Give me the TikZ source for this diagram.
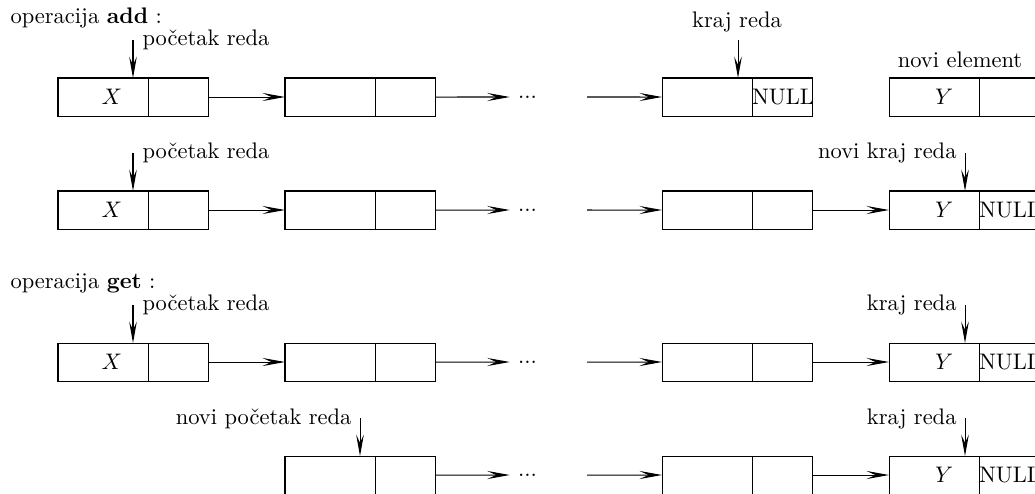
\documentclass[tikz,border=0pt]{standalone}
\usetikzlibrary{arrows.meta}
\begin{document}
\begin{tikzpicture}[x=0.4444pt, y=-0.4444pt, line width=0.45pt,
  dat/.style={draw, outer sep=0pt, inner ysep=0pt, inner xsep=11.5pt,
    text width=17pt, align=right, minimum height=16.89pt, anchor=north west},
  nxt/.style={draw, outer sep=0pt, inner sep=0pt, text width=26.67pt,
    align=left, minimum height=16.89pt, anchor=west},
  conn/.style={-{Stealth[length=10pt, width=3.6pt, inset=4pt]}},
  ptr/.style={-{Stealth[length=9.5pt, width=3.4pt, inset=3.6pt]}},
  lbl/.style={inner sep=0pt},
  dotsnode/.style={inner xsep=3.5pt, inner ysep=0pt}]
\useasboundingbox (0,0) rectangle (1035,493);
\clip (0,0) rectangle (1035,493);

% ---------- operacija add : stanje prije ----------
\node[lbl, anchor=base west] (titleadd) at (10,23) {operacija \textbf{add} :};
\node[dat] (a1d) at (58,78) {$X$};
\node[nxt] (a1n) at (a1d.east) {};
\node[dat] (a2d) at (285,78) {};
\node[nxt] (a2n) at (a2d.east) {};
\node[dotsnode] (a2x) at (527.5,97) {...};
\coordinate (a3s) at (587,97);
\node[dat] (a3d) at (662,78) {};
\node[nxt] (a3n) at (a3d.east) {NULL};
\node[dat] (a4d) at (889,78) {$Y$};
\node[nxt] (a4n) at (a4d.east) {};
\draw[conn] (a1n.east) -- (a2d.west);
\draw[conn] (a2n.east) -- (a2x.west);
\draw[conn] (a3s) -- (a3d.west);
\coordinate (a1p) at (133,40);
\draw[ptr] (a1p) -- (a1p |- a1d.north);
\node[lbl, anchor=base west] (a1l) at (142,45) {početak reda};
\coordinate (a3p) at (738,40);
\draw[ptr] (a3p) -- (a3p |- a3d.north);
\node[lbl, anchor=base] (a3l) at (737,27) {kraj reda};
\node[lbl, anchor=base] (a4l) at (960,67) {novi element};

% ---------- operacija add : stanje poslije ----------
\node[dat] (b1d) at (58,191) {$X$};
\node[nxt] (b1n) at (b1d.east) {};
\node[dat] (b2d) at (285,191) {};
\node[nxt] (b2n) at (b2d.east) {};
\node[dotsnode] (b2x) at (527.5,210) {...};
\coordinate (b3s) at (587,210);
\node[dat] (b3d) at (662,191) {};
\node[nxt] (b3n) at (b3d.east) {};
\node[dat] (b4d) at (889,191) {$Y$};
\node[nxt] (b4n) at (b4d.east) {NULL};
\draw[conn] (b1n.east) -- (b2d.west);
\draw[conn] (b2n.east) -- (b2x.west);
\draw[conn] (b3s) -- (b3d.west);
\draw[conn] (b3n.east) -- (b4d.west);
\coordinate (b1p) at (133,153);
\draw[ptr] (b1p) -- (b1p |- b1d.north);
\node[lbl, anchor=base west] (b1l) at (142,158) {početak reda};
\coordinate (b4p) at (965,153);
\draw[ptr] (b4p) -- (b4p |- b4d.north);
\node[lbl, anchor=base east] (b4l) at (957,158) {novi kraj reda};

% ---------- operacija get : stanje prije ----------
\node[lbl, anchor=base west] (titleget) at (10,288) {operacija \textbf{get} :};
\node[dat] (c1d) at (58,343) {$X$};
\node[nxt] (c1n) at (c1d.east) {};
\node[dat] (c2d) at (285,343) {};
\node[nxt] (c2n) at (c2d.east) {};
\node[dotsnode] (c2x) at (527.5,362) {...};
\coordinate (c3s) at (587,362);
\node[dat] (c3d) at (662,343) {};
\node[nxt] (c3n) at (c3d.east) {};
\node[dat] (c4d) at (889,343) {$Y$};
\node[nxt] (c4n) at (c4d.east) {NULL};
\draw[conn] (c1n.east) -- (c2d.west);
\draw[conn] (c2n.east) -- (c2x.west);
\draw[conn] (c3s) -- (c3d.west);
\draw[conn] (c3n.east) -- (c4d.west);
\coordinate (c1p) at (133,305);
\draw[ptr] (c1p) -- (c1p |- c1d.north);
\node[lbl, anchor=base west] (c1l) at (142,310) {početak reda};
\coordinate (c4p) at (965,305);
\draw[ptr] (c4p) -- (c4p |- c4d.north);
\node[lbl, anchor=base east] (c4l) at (957,310) {kraj reda};

% ---------- operacija get : stanje poslije ----------
\node[dat] (d2d) at (285,456) {};
\node[nxt] (d2n) at (d2d.east) {};
\node[dotsnode] (d2x) at (527.5,475) {...};
\coordinate (d3s) at (587,475);
\node[dat] (d3d) at (662,456) {};
\node[nxt] (d3n) at (d3d.east) {};
\node[dat] (d4d) at (889,456) {$Y$};
\node[nxt] (d4n) at (d4d.east) {NULL};
\draw[conn] (d2n.east) -- (d2x.west);
\draw[conn] (d3s) -- (d3d.west);
\draw[conn] (d3n.east) -- (d4d.west);
\coordinate (d2p) at (360,418);
\draw[ptr] (d2p) -- (d2p |- d2d.north);
\node[lbl, anchor=base east] (d2l) at (352,424) {novi početak reda};
\coordinate (d4p) at (965,418);
\draw[ptr] (d4p) -- (d4p |- d4d.north);
\node[lbl, anchor=base east] (d4l) at (957,424) {kraj reda};
\end{tikzpicture}
\end{document}
